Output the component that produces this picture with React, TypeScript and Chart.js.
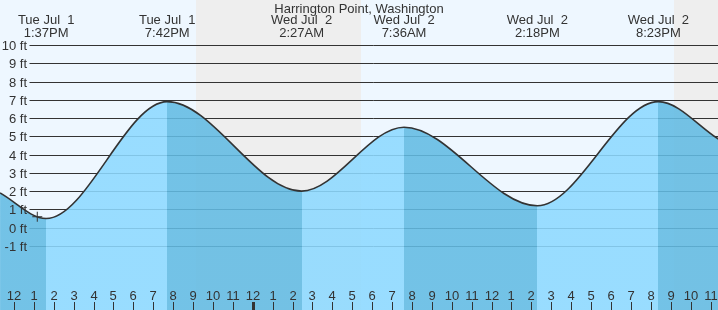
import React, { useEffect, useRef } from 'react';
import { Chart, registerables } from 'chart.js';

Chart.register(...registerables);

// ---- data ----
const chartTitle = 'Harrington Point, Washington';
// tide curve (hours since Tue Jul 1 00:00, feet)
const tideHours = [11.3, 13.617, 19.7, 26.45, 31.6, 38.3, 44.383, 47.4];
const tideFeet = [1.9, 0.5, 6.9, 2.0, 5.5, 1.2, 6.9, 4.85];
// labelled extremes
const extremeHours = [13.617, 19.7, 26.45, 31.6, 38.3, 44.383];
const extremeDates = ['Tue Jul  1', 'Tue Jul  1', 'Wed Jul  2', 'Wed Jul  2', 'Wed Jul  2', 'Wed Jul  2'];
const extremeTimes = ['1:37PM', '7:42PM', '2:27AM', '7:36AM', '2:18PM', '8:23PM'];
// current-time marker
const nowHours = [13.17];
const nowFeet = [0.6];
// night periods
const sunsetHours = [21.15, 45.17];
const sunriseHours = [29.44, 53.4];
// axis ticks
const feetTicks = [10, 9, 8, 7, 6, 5, 4, 3, 2, 1, 0, -1];
const feetLabels = ['10 ft', '9 ft', '8 ft', '7 ft', '6 ft', '5 ft', '4 ft', '3 ft', '2 ft', '1 ft', '0 ft', '-1 ft'];
const hourTicks = [12, 13, 14, 15, 16, 17, 18, 19, 20, 21, 22, 23, 24, 25, 26, 27, 28, 29, 30, 31, 32, 33, 34, 35, 36, 37, 38, 39, 40, 41, 42, 43, 44, 45, 46, 47];
const hourLabels = ['12', '1', '2', '3', '4', '5', '6', '7', '8', '9', '10', '11', '12', '1', '2', '3', '4', '5', '6', '7', '8', '9', '10', '11', '12', '1', '2', '3', '4', '5', '6', '7', '8', '9', '10', '11'];
const midnightHours = [24];

// ---- layout / style ----
const W = 718;
const H = 310;
const PX_PER_HOUR = 19.9;
const X_MIN = 12 - 14 / PX_PER_HOUR;
const X_MAX = X_MIN + W / PX_PER_HOUR;
const PX_PER_FT = 18.27;
const Y_MAX = 10 + 45 / PX_PER_FT;
const Y_MIN = Y_MAX - H / PX_PER_FT;
const FONT = "13px 'Liberation Sans', Arial, sans-serif";
const TEXT = '#333333';
const DAY_BG = '#eef7ff';
const NIGHT_BG = '#eeeeee';
const RISE_FILL = 'rgba(141,217,255,0.88)';
const FALL_FILL = 'rgba(98,187,227,0.88)';

function waterFill(c: any) {
  const chart = c.chart;
  const area = chart.chartArea;
  const xs = chart.scales && chart.scales.x;
  if (!area || !xs) return FALL_FILL;
  const g = chart.ctx.createLinearGradient(area.left, 0, area.right, 0);
  const width = area.right - area.left;
  const clamp = (v: number) => Math.min(1, Math.max(0, v));
  for (let i = 0; i < tideHours.length - 1; i++) {
    const col = tideFeet[i + 1] > tideFeet[i] ? RISE_FILL : FALL_FILL;
    const a = clamp((Math.round(xs.getPixelForValue(tideHours[i])) - area.left) / width);
    const b = clamp((Math.round(xs.getPixelForValue(tideHours[i + 1])) - area.left) / width);
    g.addColorStop(a, col);
    g.addColorStop(b, col);
  }
  return g;
}

const tidePlugin = {
  id: 'tideDecor',
  beforeDatasetsDraw(chart: any) {
    const { ctx, chartArea, scales } = chart;
    const xs = scales.x;
    const ys = scales.y;
    ctx.save();
    ctx.fillStyle = DAY_BG;
    ctx.fillRect(chartArea.left, chartArea.top, chartArea.right - chartArea.left, chartArea.bottom - chartArea.top);
    ctx.fillStyle = NIGHT_BG;
    for (let i = 0; i < sunsetHours.length; i++) {
      const a = Math.max(chartArea.left, Math.round(xs.getPixelForValue(sunsetHours[i])));
      const b = Math.min(chartArea.right, Math.round(xs.getPixelForValue(sunriseHours[i])));
      if (b > a) ctx.fillRect(a, chartArea.top, b - a, chartArea.bottom - chartArea.top);
    }
    ctx.strokeStyle = '#333333';
    ctx.lineWidth = 1;
    for (const v of feetTicks) {
      const y = Math.round(ys.getPixelForValue(v)) + 0.5;
      ctx.beginPath();
      ctx.moveTo(29.5, y);
      ctx.lineTo(chartArea.right, y);
      ctx.stroke();
    }
    ctx.restore();
  },
  afterDatasetsDraw(chart: any) {
    const { ctx, chartArea, scales } = chart;
    const xs = scales.x;
    const ys = scales.y;
    ctx.save();
    ctx.font = FONT;
    ctx.fillStyle = TEXT;
    ctx.textAlign = 'center';
    ctx.textBaseline = 'alphabetic';
    ctx.fillText(chartTitle, (chartArea.left + chartArea.right) / 2, 12.5);
    for (let i = 0; i < extremeHours.length; i++) {
      const x = xs.getPixelForValue(extremeHours[i]);
      ctx.fillText(extremeDates[i], x, 24);
      ctx.fillText(extremeTimes[i], x, 36.5);
    }
    ctx.textAlign = 'right';
    for (let i = 0; i < feetTicks.length; i++) {
      const y = Math.round(ys.getPixelForValue(feetTicks[i]));
      ctx.fillText(feetLabels[i], 27, y + 5);
    }
    ctx.textAlign = 'center';
    ctx.strokeStyle = '#333333';
    for (let i = 0; i < hourTicks.length; i++) {
      const x = Math.round(xs.getPixelForValue(hourTicks[i]));
      ctx.fillStyle = TEXT;
      ctx.fillText(hourLabels[i], x, 300);
      if (midnightHours.includes(hourTicks[i])) {
        ctx.fillStyle = '#333333';
        ctx.fillRect(x - 1, 302, 3, 8);
      } else {
        ctx.lineWidth = 1;
        ctx.beginPath();
        ctx.moveTo(x + 0.5, 302);
        ctx.lineTo(x + 0.5, 310);
        ctx.stroke();
      }
    }
    ctx.restore();
  },
};

export default function App() {
  const ref = useRef<HTMLCanvasElement | null>(null);
  useEffect(() => {
    document.body.style.margin = '0';
    const canvas = ref.current;
    if (!canvas) return;
    const chart = new Chart(canvas, {
      type: 'line',
      data: {
        datasets: [
          {
            label: 'now',
            data: nowHours.map((h, i) => ({ x: h, y: nowFeet[i] })),
            showLine: false,
            pointStyle: 'cross',
            pointRadius: 5,
            pointBorderColor: '#333333',
            pointBorderWidth: 1,
            pointBackgroundColor: '#333333',
            fill: false,
            order: 0,
          },
          {
            label: 'tide',
            data: tideHours.map((h, i) => ({ x: h, y: tideFeet[i] })),
            borderColor: '#333333',
            borderWidth: 1.6,
            pointRadius: 0,
            cubicInterpolationMode: 'monotone',
            fill: 'start',
            backgroundColor: waterFill,
            order: 1,
          },
        ],
      },
      options: {
        responsive: false,
        animation: false,
        devicePixelRatio: 1,
        layout: { padding: 0, autoPadding: false },
        plugins: {
          legend: { display: false },
          title: { display: false },
          tooltip: { enabled: false },
        },
        scales: {
          x: { type: 'linear', min: X_MIN, max: X_MAX, display: false },
          y: { type: 'linear', min: Y_MIN, max: Y_MAX, display: false },
        },
      } as any,
      plugins: [tidePlugin],
    });
    return () => chart.destroy();
  }, []);
  return (
    <div style={{ width: W, height: H }}>
      <canvas ref={ref} width={W} height={H} style={{ display: 'block', width: W, height: H }} />
    </div>
  );
}
